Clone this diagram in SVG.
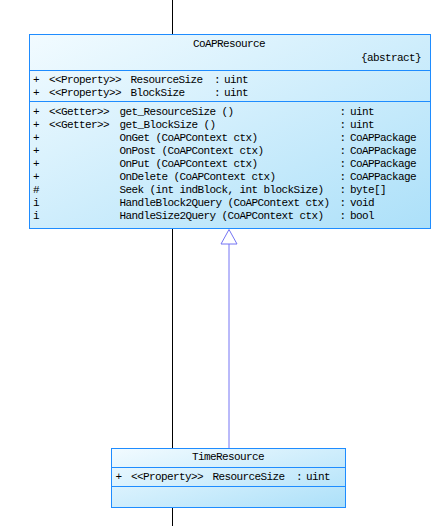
<svg xmlns="http://www.w3.org/2000/svg" width="443" height="526" viewBox="0 0 443 526">
  <defs>
    <linearGradient id="bg" x1="0" y1="0" x2="1" y2="1">
      <stop offset="0" stop-color="#f2fbff"/>
      <stop offset="1" stop-color="#ace0f9"/>
    </linearGradient>
    <style>
      .box { fill: url(#bg); stroke: #1e8cff; stroke-width: 1; }
      .div { stroke: #1e8cff; stroke-width: 1; fill: none; }
      text { font-family: "Liberation Mono", "DejaVu Sans Mono", monospace; font-size: 11px; letter-spacing: -0.6px; fill: #000; }
      .c { text-anchor: middle; }
      .r { text-anchor: end; }
      .life { stroke: #000; stroke-width: 1; fill: none; }
      .gen { stroke: #7474f4; stroke-width: 1; fill: none; }
      .tri { stroke: #7474f4; stroke-width: 1; fill: #ffffff; }
    </style>
  </defs>
  <rect width="443" height="526" fill="#ffffff"/>
  <g id="connectors">
    <line class="life" x1="172.5" y1="0" x2="172.5" y2="526"/>
    <line class="gen" x1="229" y1="448" x2="229" y2="244"/>
    <polygon class="tri" points="229,229.5 221,244 237,244"/>
  </g>
  <g id="CoAPResource">
    <rect class="box" x="29.5" y="34.5" width="401" height="194"/>
    <line class="div" x1="29.5" y1="70.5" x2="430.5" y2="70.5"/>
    <line class="div" x1="29.5" y1="101.5" x2="430.5" y2="101.5"/>
    <text class="c" x="229" y="46.5">CoAPResource</text>
    <text class="r" x="421" y="61">{abstract}</text>
    <text x="33" y="83">+</text><text x="49" y="83">&lt;&lt;Property&gt;&gt;</text><text x="130.5" y="83">ResourceSize</text><text x="214" y="83">:</text><text x="224" y="83">uint</text>
    <text x="33" y="96">+</text><text x="49" y="96">&lt;&lt;Property&gt;&gt;</text><text x="130.5" y="96">BlockSize</text><text x="214" y="96">:</text><text x="224" y="96">uint</text>
    <text x="33" y="114.5">+</text><text x="49" y="114.5">&lt;&lt;Getter&gt;&gt;</text><text x="119.5" y="114.5">get_ResourceSize ()</text><text x="339.5" y="114.5">:</text><text x="350" y="114.5">uint</text>
    <text x="33" y="127.5">+</text><text x="49" y="127.5">&lt;&lt;Getter&gt;&gt;</text><text x="119.5" y="127.5">get_BlockSize ()</text><text x="339.5" y="127.5">:</text><text x="350" y="127.5">uint</text>
    <text x="33" y="140.5">+</text><text x="119.5" y="140.5">OnGet (CoAPContext ctx)</text><text x="339.5" y="140.5">:</text><text x="350" y="140.5">CoAPPackage</text>
    <text x="33" y="153.5">+</text><text x="119.5" y="153.5">OnPost (CoAPContext ctx)</text><text x="339.5" y="153.5">:</text><text x="350" y="153.5">CoAPPackage</text>
    <text x="33" y="166.5">+</text><text x="119.5" y="166.5">OnPut (CoAPContext ctx)</text><text x="339.5" y="166.5">:</text><text x="350" y="166.5">CoAPPackage</text>
    <text x="33" y="179.5">+</text><text x="119.5" y="179.5">OnDelete (CoAPContext ctx)</text><text x="339.5" y="179.5">:</text><text x="350" y="179.5">CoAPPackage</text>
    <text x="33" y="192.5">#</text><text x="119.5" y="192.5">Seek (int indBlock, int blockSize)</text><text x="339.5" y="192.5">:</text><text x="350" y="192.5">byte[]</text>
    <text x="33" y="205.5">i</text><text x="119.5" y="205.5">HandleBlock2Query (CoAPContext ctx)</text><text x="339.5" y="205.5">:</text><text x="350" y="205.5">void</text>
    <text x="33" y="218.5">i</text><text x="119.5" y="218.5">HandleSize2Query (CoAPContext ctx)</text><text x="339.5" y="218.5">:</text><text x="350" y="218.5">bool</text>
  </g>
  <g id="TimeResource">
    <rect class="box" x="111.5" y="448.5" width="234" height="59"/>
    <line class="div" x1="111.5" y1="467.5" x2="345.5" y2="467.5"/>
    <line class="div" x1="111.5" y1="486.5" x2="345.5" y2="486.5"/>
    <text class="c" x="228" y="460">TimeResource</text>
    <text x="115.5" y="480">+</text><text x="131" y="480">&lt;&lt;Property&gt;&gt;</text><text x="212.5" y="480">ResourceSize</text><text x="296" y="480">:</text><text x="306" y="480">uint</text>
  </g>
</svg>
